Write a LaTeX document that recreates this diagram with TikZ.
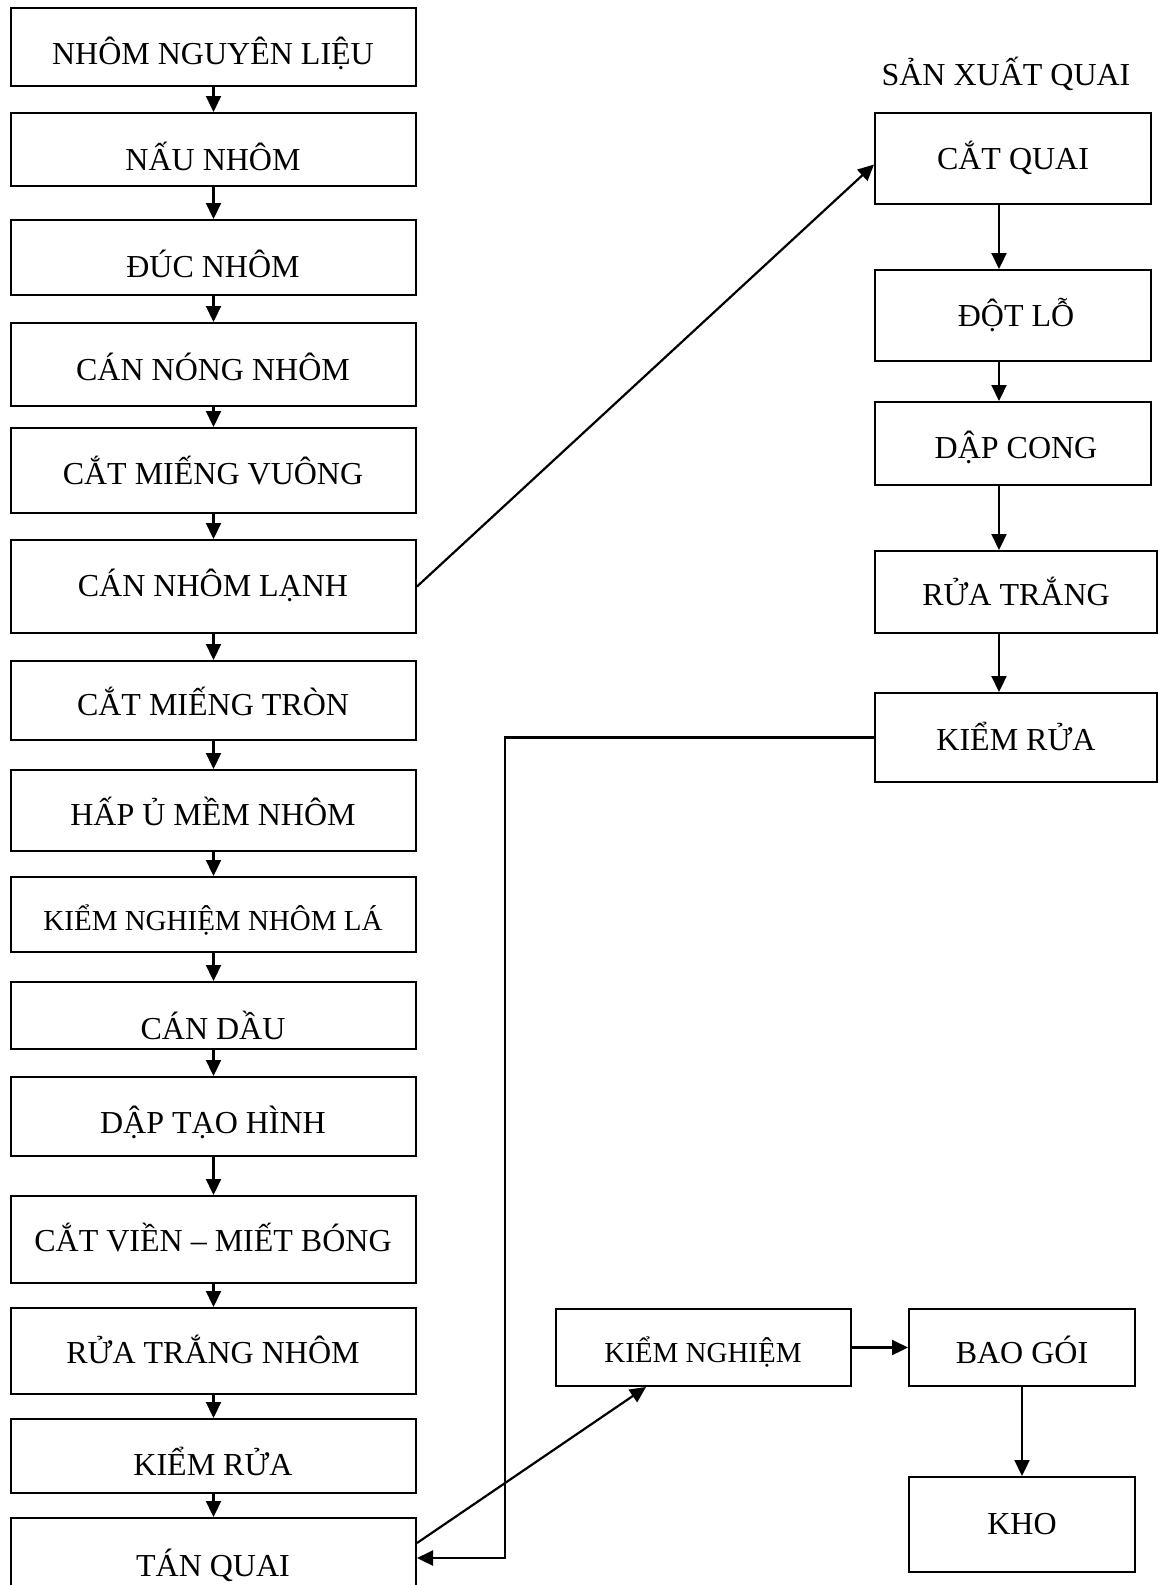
\documentclass[tikz,border=0pt]{standalone}
\usepackage{fontspec}
\setmainfont{Liberation Serif}
\usetikzlibrary{arrows.meta,fit,calc}
\begin{document}
\begin{tikzpicture}[x=0.5pt,y=-0.5pt,
  box/.style={draw,line width=1pt,inner sep=0pt},
  lbl/.style={anchor=base,inner sep=0pt,font=\fontsize{16}{19}\selectfont},
  slbl/.style={anchor=base,inner sep=0pt,font=\fontsize{14.5}{17}\selectfont},
  arr/.style={line width=1.1pt,-{Triangle[length=8pt,width=7.5pt]}},
  ln/.style={line width=1pt}]
\useasboundingbox (0,0) rectangle (1159,1585);
% left column boxes
\node[box,fit={(11,8) (416,86)}] (b1) {};
\node[box,fit={(11,113) (416,186)}] (b2) {};
\node[box,fit={(11,220) (416,295)}] (b3) {};
\node[box,fit={(11,323) (416,406)}] (b4) {};
\node[box,fit={(11,428) (416,513)}] (b5) {};
\node[box,fit={(11,540) (416,633)}] (b6) {};
\node[box,fit={(11,661) (416,740)}] (b7) {};
\node[box,fit={(11,770) (416,851)}] (b8) {};
\node[box,fit={(11,877) (416,952)}] (b9) {};
\node[box,fit={(11,982) (416,1049)}] (b10) {};
\node[box,fit={(11,1077) (416,1156)}] (b11) {};
\node[box,fit={(11,1196) (416,1283)}] (b12) {};
\node[box,fit={(11,1308) (416,1394)}] (b13) {};
\node[box,fit={(11,1419) (416,1493)}] (b14) {};
\node[box,fit={(11,1518) (416,1610)}] (b15) {};
% left labels
\node[lbl] (t1) at (213,64) {NHÔM NGUYÊN LIỆU};
\node[lbl] (t2) at (213,170) {NẤU NHÔM};
\node[lbl] (t3) at (213,277) {ĐÚC NHÔM};
\node[lbl] (t4) at (213,380) {CÁN NÓNG NHÔM};
\node[lbl] (t5) at (213,484) {CẮT MIẾNG VUÔNG};
\node[lbl] (t6) at (213,596) {CÁN NHÔM LẠNH};
\node[lbl] (t7) at (213,715) {CẮT MIẾNG TRÒN};
\node[lbl] (t8) at (213,825) {HẤP Ủ MỀM NHÔM};
\node[slbl] (t9) at (213,930) {KIỂM NGHIỆM NHÔM LÁ};
\node[lbl] (t10) at (213,1039) {CÁN DẦU};
\node[lbl] (t11) at (213,1133) {DẬP TẠO HÌNH};
\node[lbl] (t12) at (213,1251) {CẮT VIỀN – MIẾT BÓNG};
\node[lbl] (t13) at (213,1363) {RỬA TRẮNG NHÔM};
\node[lbl] (t14) at (213,1475) {KIỂM RỬA};
\node[lbl] (t15) at (213,1576) {TÁN QUAI};
% right column
\node[lbl] (title) at (1006,85) {SẢN XUẤT QUAI};
\node[box,fit={(875,113) (1151,204)}] (r1) {};
\node[box,fit={(875,270) (1151,361)}] (r2) {};
\node[box,fit={(875,402) (1151,485)}] (r3) {};
\node[box,fit={(875,551) (1157,633)}] (r4) {};
\node[box,fit={(875,693) (1157,782)}] (r5) {};
\node[lbl] (s1) at (1013,169) {CẮT QUAI};
\node[lbl] (s2) at (1016,326) {ĐỘT LỖ};
\node[lbl] (s3) at (1016,458) {DẬP CONG};
\node[lbl] (s4) at (1016,605) {RỬA TRẮNG};
\node[lbl] (s5) at (1016,750) {KIỂM RỬA};
% bottom right
\node[box,fit={(556,1309) (851,1386)}] (k) {};
\node[box,fit={(909,1309) (1135,1386)}] (bg) {};
\node[box,fit={(909,1477) (1135,1572)}] (kho) {};
\node[slbl] (tk) at (703,1362) {KIỂM NGHIỆM};
\node[lbl] (tbg) at (1022,1363) {BAO GÓI};
\node[lbl] (tkho) at (1022,1534) {KHO};
% left arrows
\foreach \a/\b in {b1/b2,b2/b3,b3/b4,b4/b5,b5/b6,b6/b7,b7/b8,b8/b9,b9/b10,b10/b11,b11/b12,b12/b13,b13/b14,b14/b15}
  \draw[arr] (\a.south) -- (\b.north);
% right arrows
\foreach \a/\b in {r1/r2,r2/r3,r3/r4,r4/r5}
  \draw[arr] ($(\a.south west)+(125,0)$) -- ($(\b.north west)+(125,0)$);
% cross connectors
\draw[arr] (b6.east) -- ($(r1.west)+(0,6)$);
\coordinate (turn) at (505,1558);
\draw[arr] (r5.west) -| (turn) -- (turn -| b15.east);
\draw[arr] ($(b15.north east)+(0,26)$) -- ($(k.south west)+(91,0)$);
\draw[arr] (k.east) -- (bg.west);
\draw[arr] (bg.south) -- (kho.north);
\end{tikzpicture}
\end{document}
